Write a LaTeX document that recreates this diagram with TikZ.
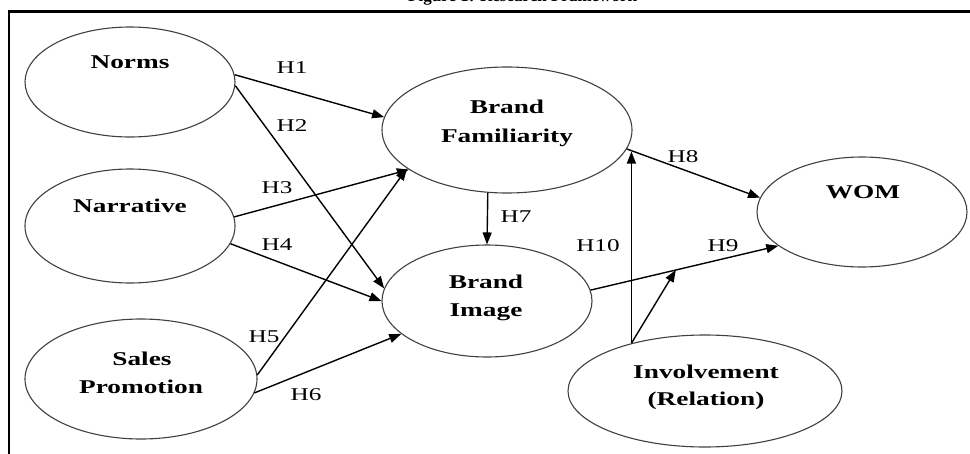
\documentclass[tikz,border=0pt]{standalone}
\usepackage{fontspec}
\newfontfamily\figfont[FakeStretch=1.4]{Liberation Serif}
\newfontfamily\ttlfont{Liberation Serif}
\usetikzlibrary{shapes.geometric,arrows.meta}
\begin{document}
\begin{tikzpicture}[x=1pt,y=-1pt,
  ell/.style={ellipse, draw=black!75, line width=1.1pt, inner sep=0pt},
  lbl/.style={font=\figfont\bfseries\fontsize{19.5}{29}\selectfont, anchor=base, inner sep=0pt},
  hyp/.style={font=\figfont\fontsize{18}{20}\selectfont, inner sep=0pt},
  arr/.style={line width=1.4pt, -{Triangle[length=12pt,width=9pt]}},
  frame/.style={line width=2.5pt}
]
\useasboundingbox (0,0) rectangle (970,453);
% cut-off title
\node[font=\ttlfont\bfseries\fontsize{17}{20}\selectfont, anchor=base west, inner sep=0pt] (title) at (408,1.5) {Figure 1: Research Framework};
% frame
\draw[frame] (9,470) -- (9,11.3) -- (990,11.3);
% ellipses
\node[ell, minimum width=210pt, minimum height=110pt] (norms) at (130,82) {};
\node[ell, minimum width=210pt, minimum height=114pt] (narr) at (130,226) {};
\node[ell, minimum width=232pt, minimum height=120pt] (sales) at (141,379) {};
\node[ell, minimum width=250pt, minimum height=126pt] (bf) at (507,130) {};
\node[ell, minimum width=210pt, minimum height=112pt] (bi) at (487,301) {};
\node[ell, minimum width=210pt, minimum height=110pt] (wom) at (862,212) {};
\node[ell, minimum width=274pt, minimum height=112pt] (inv) at (705,391) {};
% texts
\node[lbl] (normsT) at (130,68) {Norms};
\node[lbl] (narrT) at (130,212) {Narrative};
\node[lbl] (salesT1) at (142,365) {Sales};
\node[lbl] (salesT2) at (141,393) {Promotion};
\node[lbl] (bfT1) at (507,113) {Brand};
\node[lbl] (bfT2) at (507,142) {Familiarity};
\node[lbl] (biT1) at (486,288) {Brand};
\node[lbl] (biT2) at (486,316) {Image};
\node[lbl] (womT) at (863,198) {WOM};
\node[lbl] (invT1) at (706,378) {Involvement};
\node[lbl] (invT2) at (706,405) {(Relation)};
% connectors
\draw[arr] (norms.4) -- (bf.174);
\draw[arr] (norms.-2) -- (bi.173.4);
\draw[arr] (narr.5.4) -- (bf.202);
\draw[arr] (narr.-10.3) -- (bi.180);
\draw[arr] (sales.2) -- (bf.201);
\draw[arr] (sales.-7) -- (bi.-159);
\draw[arr] (bf.-107.6) -- (bi.north);
\draw[arr] (bf.-9.6) -- coordinate[pos=0.053] (m8) (wom.172.9);
\draw[arr] (bi.6) -- coordinate[pos=0.454] (m9) (wom.202.4);
\draw[arr] (inv.147.8) -- (inv.147.8 |- m8);
\draw[arr] (inv.147.8) -- (m9);
% hypothesis labels
\node[hyp] (h1) at (292,67.5) {H1};
\node[hyp] (h2) at (292,126) {H2};
\node[hyp] (h3) at (277,187.5) {H3};
\node[hyp] (h4) at (277,245) {H4};
\node[hyp] (h5) at (264,337) {H5};
\node[hyp] (h6) at (306,395) {H6};
\node[hyp] (h7) at (516,217) {H7};
\node[hyp] (h8) at (683,157) {H8};
\node[hyp] (h9) at (723,245.5) {H9};
\node[hyp] (h10) at (598,246) {H10};
\end{tikzpicture}
\end{document}
